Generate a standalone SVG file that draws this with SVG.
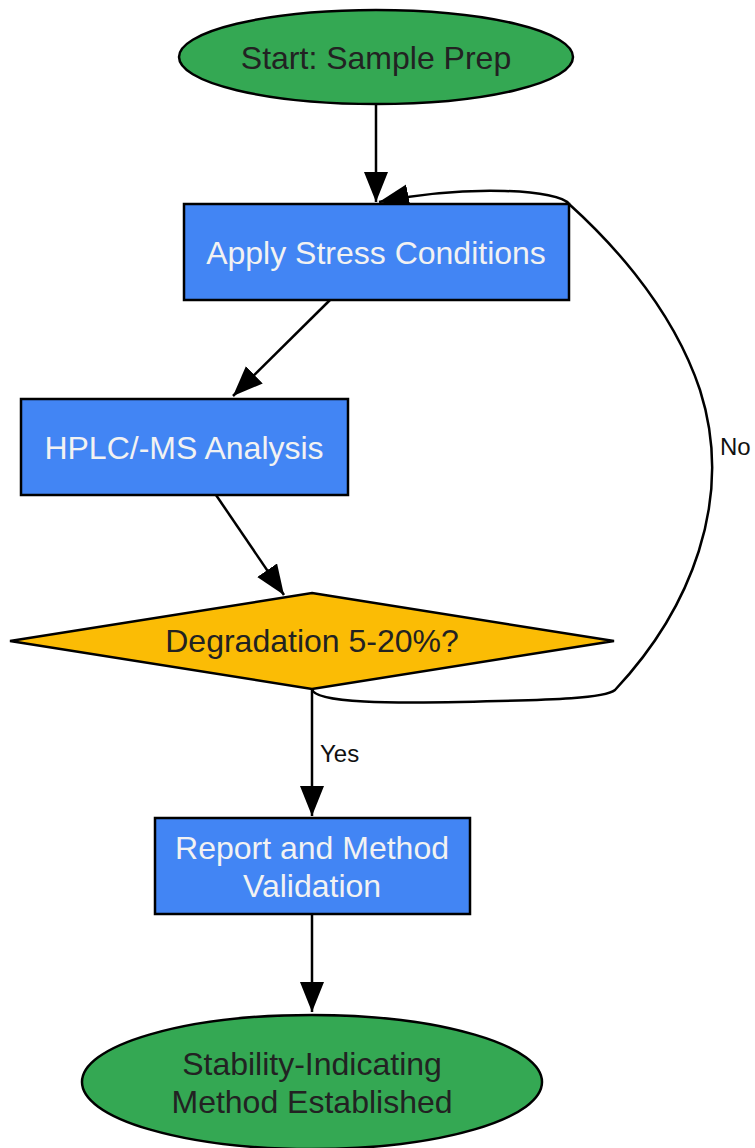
<svg xmlns="http://www.w3.org/2000/svg" width="755" height="1148" viewBox="0 0 755 1148">
<defs>
<style>
.n{stroke:#000;stroke-width:2.5}
.g{fill:#34A853}.b{fill:#4285F4}.y{fill:#FBBC05}
.t{font-family:"Liberation Sans",Arial,sans-serif;font-size:32px;text-anchor:middle}
.dk{fill:#222}.lt{fill:#f2f2f2}
.e{fill:none;stroke:#000;stroke-width:2.5}
.l{font-family:"Liberation Sans",Arial,sans-serif;font-size:24px;fill:#111}
</style>
<marker id="a" markerUnits="userSpaceOnUse" markerWidth="32" markerHeight="26" refX="30" refY="12" orient="auto"><path d="M0,0 L30,12 L0,24 Z" fill="#000"/></marker>
</defs>
<g id="edges">
<path class="e" d="M376,105 L376,202" marker-end="url(#a)"/>
<path class="e" d="M330,300 L233,396" marker-end="url(#a)"/>
<path class="e" d="M216,495 L284,595" marker-end="url(#a)"/>
<path class="e" d="M312,689 L312,816" marker-end="url(#a)"/>
<path class="e" d="M312,914 L312,1012" marker-end="url(#a)"/>
<path class="e" d="M312,689 C314,704 400,703 460,702 C560,700 605,698 615,690 C690,610 735,500 700,390 C670,300 600,232 569,204 C560,190 470,184 379,202" marker-end="url(#a)"/>
<text class="l" x="720" y="455">No</text>
<text class="l" x="320" y="762">Yes</text>
</g>
<g id="start"><ellipse class="n g" cx="376" cy="57" rx="197" ry="47"/><text class="t dk" x="376" y="69">Start: Sample Prep</text></g>
<g id="stress"><rect class="n b" x="184" y="204" width="385" height="96"/><text class="t lt" x="376" y="264">Apply Stress Conditions</text></g>
<g id="hplc"><rect class="n b" x="21" y="399" width="327" height="96"/><text class="t lt" x="184" y="459">HPLC/-MS Analysis</text></g>
<g id="decision"><polygon class="n y" points="312,593 614,641 312,689 10,641"/><text class="t dk" x="312" y="652">Degradation 5-20%?</text></g>
<g id="report"><rect class="n b" x="155" y="818" width="315" height="96"/><text class="t lt" x="312" y="859">Report and Method</text><text class="t lt" x="312" y="897">Validation</text></g>
<g id="end"><ellipse class="n g" cx="312" cy="1082" rx="230" ry="67"/><text class="t dk" x="312" y="1075">Stability-Indicating</text><text class="t dk" x="312" y="1113">Method Established</text></g>
</svg>
